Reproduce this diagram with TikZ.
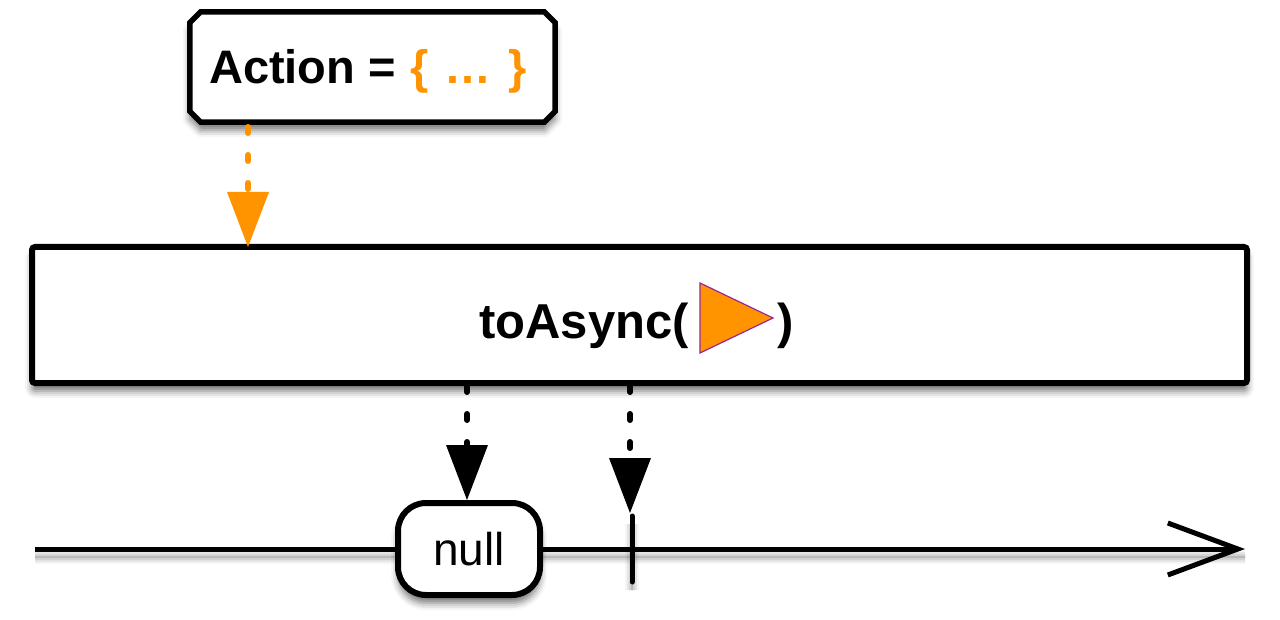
\documentclass[tikz,border=0pt]{standalone}
\usepackage{fontspec}
\setmainfont{Liberation Sans}
\usetikzlibrary{arrows.meta,calc,shadows.blur}
\definecolor{accent}{RGB}{255,148,0}
\definecolor{edgepurple}{RGB}{150,40,150}
\begin{document}
\begin{tikzpicture}[x=1pt,y=-1pt,
  boxline/.style={line width=6pt,draw=black,fill=white},
  softshadow/.style={blur shadow={shadow xshift=0pt,shadow yshift=-8pt,shadow blur radius=7pt,shadow opacity=55}},
  dotline/.style={line width=6pt,line cap=round,dash pattern=on 6pt off 22pt},
  headtip/.style={-{Triangle[length=55pt 0 0,width=42pt 0 0,line width=0pt,fill=#1]}},
  label/.style={font=\fontsize{49}{52}\selectfont\bfseries,inner sep=0pt}]
\useasboundingbox (0,0) rectangle (1280,620);

% Action box with chamfered corners
\node[minimum width=365pt,minimum height=110pt,inner sep=0pt] (act) at (372.5,67) {};
\draw[boxline,line width=5.5pt,softshadow]
  ($(act.north west)+(11,0)$) -- ($(act.north east)+(-11,0)$) -- ($(act.north east)+(0,11)$)
  -- ($(act.south east)+(0,-11)$) -- ($(act.south east)+(-11,0)$) -- ($(act.south west)+(11,0)$)
  -- ($(act.south west)+(0,-11)$) -- ($(act.north west)+(0,11)$) -- cycle;
\node[label,font=\fontsize{47}{50}\selectfont\bfseries,anchor=base west] (acttext) at (209,84)
  {Action =\hspace{0.3em}\textcolor{accent}{\{\hspace{0.35em}…\hspace{0.35em}\}}};

% operator box
\node[boxline,softshadow,rounded corners=3pt,minimum width=1215pt,minimum height=136pt,inner sep=0pt] (op) at (639.5,315) {};
\node[label,anchor=base east] (optext) at (689,338) {toAsync(};
\node[label,anchor=base west] (opclose) at (777,338) {)};
\draw[fill=accent,draw=edgepurple,line width=1.2pt] (700,283) -- (773,318) -- (700,353) -- cycle;

% action input
\coordinate (actout) at (248,127);
\draw[dotline,draw=accent,headtip=accent] (actout) -- (248,247);

% timeline
\coordinate (tstart) at (35,549);
\coordinate (tend) at (1245,549);
\draw[line width=5pt,softshadow,-{Straight Barb[length=70pt 0 0,width=52pt 0 0,line width=5pt]}] (tstart) -- (tend);

% emitted null and completion
\node[boxline,softshadow,rounded corners=28pt,minimum width=142pt,minimum height=92pt,inner sep=0pt,
  font=\fontsize{46}{50}\selectfont] (nullv) at (469,549) {null};
\coordinate (tick) at (632,549);
\draw[line width=5pt,line cap=round,softshadow] ($(tick)+(0,-33)$) -- ($(tick)+(0,33)$);

\coordinate (out1) at (467,386);
\coordinate (out2) at (630,386);
\draw[dotline,headtip=black] (out1) -- (nullv.north -| out1);
\draw[dotline,headtip=black] (out2) -- (630,513);
\end{tikzpicture}
\end{document}
